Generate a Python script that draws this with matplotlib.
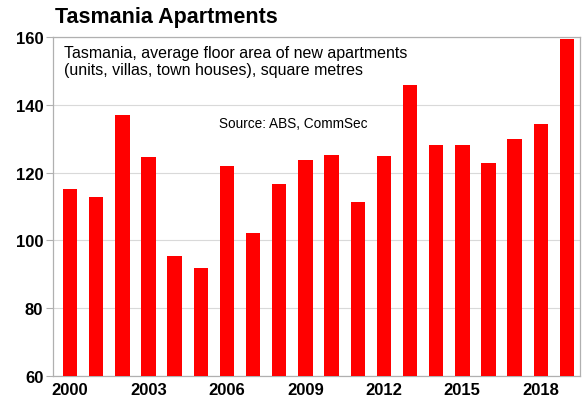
import matplotlib.pyplot as plt

plt.rcParams['font.family'] = ['Liberation Sans', 'DejaVu Sans']

years = list(range(2000, 2020))
floor_area = [115.2, 112.8, 137.0, 124.6, 95.4, 91.9, 122.0, 102.2, 116.6, 123.7,
              125.2, 111.3, 124.9, 145.8, 128.1, 128.1, 122.8, 129.9, 134.3, 159.4]
tick_years = [2000, 2003, 2006, 2009, 2012, 2015, 2018]
y_ticks = [60, 80, 100, 120, 140, 160]

fig = plt.figure(figsize=(5.87, 4.02), dpi=100)
ax = fig.add_axes([53 / 587, 25 / 402, 527 / 587, 339 / 402])

ax.bar(years, floor_area, width=0.55, color='#ff0000', zorder=3)

ax.set_ylim(60, 160)
ax.set_xlim(1999.35, 2019.5)
ax.set_yticks(y_ticks)
ax.set_xticks(tick_years)
ax.grid(axis='y', color='#d9d9d9', linewidth=0.8, zorder=0)

for s in ax.spines.values():
    s.set_color('#b0b0b0')
    s.set_linewidth(0.9)

ax.tick_params(axis='y', length=5, color='#b0b0b0', pad=2, labelsize=12)
ax.tick_params(axis='x', length=0, pad=4, labelsize=12)
for lbl in ax.get_xticklabels() + ax.get_yticklabels():
    lbl.set_fontweight('bold')

fig.text(55 / 587, 1 - 18 / 402, 'Tasmania Apartments', fontsize=15.5,
         fontweight='bold', va='center', ha='left')
ax.text(0.02, 0.975, 'Tasmania, average floor area of new apartments\n'
        '(units, villas, town houses), square metres',
        transform=ax.transAxes, fontsize=11.5, va='top', ha='left', linespacing=1.1)
ax.text(0.315, 0.745, 'Source: ABS, CommSec', transform=ax.transAxes,
        fontsize=9.8, va='center', ha='left')

fig.savefig('out.png', dpi=100)
